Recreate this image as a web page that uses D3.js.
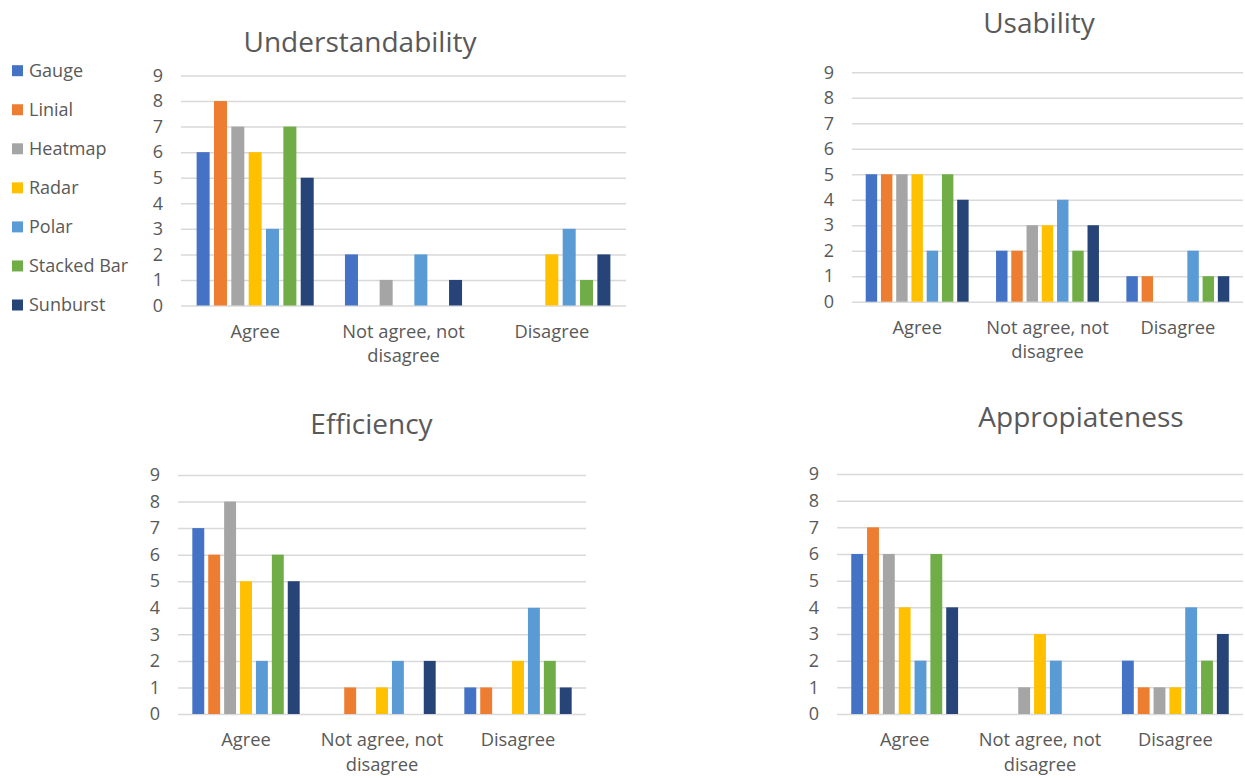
<!DOCTYPE html>
<html>
<head>
<meta charset="utf-8">
<script src="https://cdn.jsdelivr.net/npm/d3@7"></script>
<style>
  html, body { margin: 0; padding: 0; background: #fff; }
  svg { display: block; }
  text { font-family: "Open Sans", "Noto Sans", sans-serif; fill: #595959; }
</style>
</head>
<body>
<svg id="chart" width="1245" height="778"></svg>
<script>
// ---------- DATA ----------
const categories = ["Agree", "Not agree, not disagree", "Disagree"];
const seriesNames = ["Gauge", "Linial", "Heatmap", "Radar", "Polar", "Stacked Bar", "Sunburst"];
const seriesColors = ["#4472C4", "#ED7D31", "#A5A5A5", "#FFC000", "#5B9BD5", "#70AD47", "#264478"];
const yTicks = [0, 1, 2, 3, 4, 5, 6, 7, 8, 9];

// values[category][series]
const understandability = [
  [6, 8, 7, 6, 3, 7, 5],
  [2, 0, 1, 0, 2, 0, 1],
  [0, 0, 0, 2, 3, 1, 2]
];
const usability = [
  [5, 5, 5, 5, 2, 5, 4],
  [2, 2, 3, 3, 4, 2, 3],
  [1, 1, 0, 0, 2, 1, 1]
];
const efficiency = [
  [7, 6, 8, 5, 2, 6, 5],
  [0, 1, 0, 1, 2, 0, 2],
  [1, 1, 0, 2, 4, 2, 1]
];
const appropiateness = [
  [6, 7, 6, 4, 2, 6, 4],
  [0, 0, 1, 3, 2, 0, 0],
  [2, 1, 1, 1, 4, 2, 3]
];
const chartTitles = ["Understandability", "Usability", "Efficiency", "Appropiateness"];

// ---------- LAYOUT ----------
const panels = [
  { title: chartTitles[0], values: understandability, x0: 181, x1: 626, yZero: 305.5, yTop: 75.5, titleX: 360, titleY: 52 },
  { title: chartTitles[1], values: usability,         x0: 852, x1: 1243, yZero: 301.7, yTop: 72.3, titleX: 1039, titleY: 33 },
  { title: chartTitles[2], values: efficiency,        x0: 178, x1: 586, yZero: 714, yTop: 475, titleX: 371.5, titleY: 434 },
  { title: chartTitles[3], values: appropiateness,    x0: 837, x1: 1243, yZero: 714, yTop: 474, titleX: 1081, titleY: 426.5 }
];

const svg = d3.select("#chart");
svg.append("rect").attr("width", 1245).attr("height", 778).attr("fill", "#fff");

function wrapLabel(textSel, maxWidth) {
  textSel.each(function () {
    const t = d3.select(this);
    const words = t.text().split(/\s+/);
    t.text(null);
    let lines = [];
    let line = [];
    const probe = t.append("tspan");
    words.forEach(w => {
      line.push(w);
      probe.text(line.join(" "));
      if (probe.node().getComputedTextLength() > maxWidth && line.length > 1) {
        line.pop();
        lines.push(line.join(" "));
        line = [w];
      }
    });
    lines.push(line.join(" "));
    probe.remove();
    lines.forEach((l, i) => {
      t.append("tspan").attr("x", 0).attr("y", 32 + i * 24.5).text(l);
    });
  });
}

panels.forEach(p => {
  const g = svg.append("g");
  const x = d3.scaleBand().domain(categories).range([p.x0, p.x1]).padding(0);
  const xs = d3.scaleBand().domain(seriesNames).range([0, x.bandwidth()])
    .paddingInner(0.25).paddingOuter(0.9);
  const y = d3.scaleLinear().domain([0, 9]).range([p.yZero, p.yTop]);

  // gridlines + y labels
  const yAxis = d3.axisLeft(y).tickValues(yTicks).tickFormat(d3.format("d"))
    .tickSize(-(p.x1 - p.x0)).tickPadding(18);
  const ya = g.append("g").attr("transform", `translate(${p.x0},0)`).call(yAxis);
  ya.select(".domain").remove();
  ya.selectAll(".tick line").attr("stroke", "#D9D9D9").attr("stroke-width", 1.5);
  ya.selectAll(".tick text").attr("font-size", 18).attr("fill", "#595959")
    .style("font-family", "'Open Sans', sans-serif");

  // bars
  categories.forEach((c, ci) => {
    g.append("g").selectAll("rect")
      .data(seriesNames.map((s, si) => ({ s, si, v: p.values[ci][si] })))
      .join("rect")
      .attr("x", d => x(c) + xs(d.s))
      .attr("width", xs.bandwidth())
      .attr("y", d => y(d.v))
      .attr("height", d => y(0) - y(d.v))
      .attr("fill", d => seriesColors[d.si]);
  });

  // category axis
  const xAxis = d3.axisBottom(x).tickSize(0).tickPadding(0);
  const xa = g.append("g").attr("transform", `translate(0,${p.yZero})`).call(xAxis);
  xa.select(".domain").remove();
  xa.selectAll(".tick text").attr("font-size", 18.3).attr("fill", "#595959")
    .attr("dy", null).style("font-family", "'Open Sans', sans-serif")
    .call(wrapLabel, x.bandwidth() * 0.95);

  // title
  svg.append("text").attr("x", p.titleX).attr("y", p.titleY)
    .attr("text-anchor", "middle").attr("font-size", 28).text(p.title);
});

// legend
const legend = svg.append("g");
const ly = d3.scalePoint().domain(seriesNames).range([70.7, 305]);
seriesNames.forEach((s, i) => {
  legend.append("rect").attr("x", 12).attr("y", ly(s) - 5.5).attr("width", 11).attr("height", 11)
    .attr("fill", seriesColors[i]);
  legend.append("text").attr("x", 29).attr("y", ly(s)).attr("dy", "0.35em")
    .attr("font-size", 18).text(s);
});
</script>
</body>
</html>
